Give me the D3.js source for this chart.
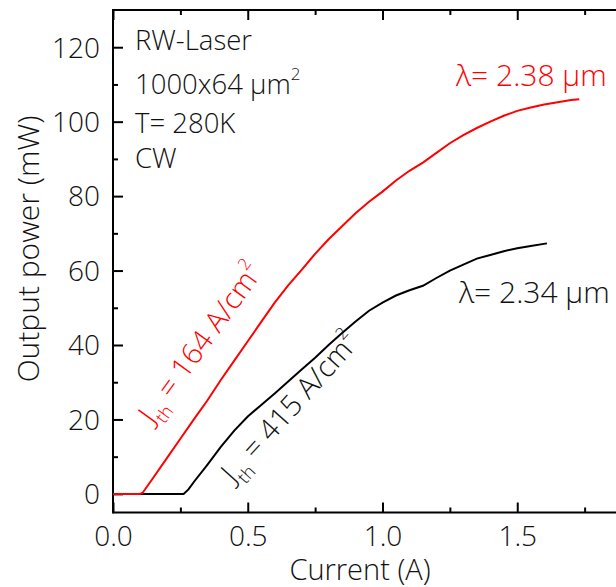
<!DOCTYPE html>
<html>
<head>
<meta charset="utf-8">
<script src="https://cdn.jsdelivr.net/npm/d3@7"></script>
<style>
  html, body { margin: 0; padding: 0; background: #fff; }
  svg { display: block; }
  text { font-family: "Open Sans", "Noto Sans", sans-serif; font-weight: 350; }
</style>
</head>
<body>
<svg id="chart" width="616" height="587"></svg>
<script>
// Light output vs. drive current, two ridge-waveguide lasers
const currentRed = [0.00, 0.05, 0.10, 0.11, 0.15, 0.20, 0.25, 0.30, 0.35, 0.40, 0.45, 0.50, 0.55, 0.60, 0.65, 0.70, 0.75, 0.80, 0.85, 0.90, 0.95, 1.00, 1.05, 1.10, 1.15, 1.20, 1.25, 1.30, 1.35, 1.40, 1.45, 1.50, 1.55, 1.60, 1.65, 1.70, 1.73];
const powerRed   = [0, 0, 0, 0.3, 4.4, 9.6, 14.8, 20.0, 25.1, 30.6, 35.8, 41.0, 46.2, 51.4, 56.0, 60.2, 64.5, 68.4, 71.9, 75.4, 78.5, 81.2, 84.2, 86.8, 89.0, 91.6, 94.2, 96.4, 98.3, 100.0, 101.6, 102.9, 103.8, 104.6, 105.2, 105.8, 106.0];

const currentBlack = [0.00, 0.10, 0.20, 0.262, 0.28, 0.30, 0.35, 0.40, 0.45, 0.50, 0.55, 0.60, 0.65, 0.70, 0.75, 0.80, 0.85, 0.90, 0.95, 1.00, 1.05, 1.10, 1.15, 1.20, 1.25, 1.30, 1.35, 1.40, 1.45, 1.50, 1.55, 1.61];
const powerBlack   = [0, 0, 0, 0, 1.2, 3.2, 7.8, 12.6, 17.0, 20.8, 23.9, 27.0, 30.2, 33.4, 36.6, 40.0, 43.2, 46.3, 49.2, 51.4, 53.3, 54.7, 55.9, 58.0, 60.0, 61.6, 63.2, 64.2, 65.2, 66.0, 66.6, 67.3];

const xMajorTicks = [0, 0.5, 1.0, 1.5];
const xMinorTicks = [0.25, 0.75, 1.25, 1.75];
const yMajorTicks = [0, 20, 40, 60, 80, 100, 120];
const yMinorTicks = [10, 30, 50, 70, 90, 110];

const infoLines = ["RW-Laser", "1000x64 μm", "T= 280K", "CW"];

const svg = d3.select("#chart");
const plotLeft = 113, plotTop = 10, plotBottom = 512.5, plotRight = 652;

const x = d3.scaleLinear().domain([0, 2.0]).range([plotLeft, plotRight]);
const y = d3.scaleLinear().domain([-5, 130]).range([plotBottom, plotTop]);

const axisColor = "#000";
const textColor = "#111";

// frame: bottom, top and left edges
svg.append("line").attr("x1", plotLeft).attr("x2", plotRight).attr("y1", plotBottom).attr("y2", plotBottom)
  .attr("stroke", axisColor).attr("stroke-width", 2);
svg.append("line").attr("x1", plotLeft).attr("x2", plotRight).attr("y1", plotTop).attr("y2", plotTop)
  .attr("stroke", axisColor).attr("stroke-width", 2);
svg.append("line").attr("x1", plotLeft).attr("x2", plotLeft).attr("y1", plotTop - 1).attr("y2", plotBottom + 1)
  .attr("stroke", axisColor).attr("stroke-width", 2);

// inward ticks built with d3 axes
function styleAxis(g) {
  g.select(".domain").remove();
  g.selectAll(".tick line").attr("stroke", axisColor).attr("stroke-width", 2);
}

const tickFont = 28;
const titleFont = 29;

svg.append("g").attr("transform", `translate(0,${plotBottom})`)
  .call(d3.axisBottom(x).tickValues(xMajorTicks).tickSizeInner(-10).tickSizeOuter(0)
    .tickFormat(d3.format(".1f")))
  .call(styleAxis)
  .call(g => g.selectAll(".tick text").attr("font-size", tickFont).attr("fill", textColor)
    .attr("font-family", null).attr("y", 0).attr("dy", 33.5));

svg.append("g").attr("transform", `translate(0,${plotBottom})`)
  .call(d3.axisBottom(x).tickValues(xMinorTicks).tickSizeInner(-5).tickSizeOuter(0).tickFormat(""))
  .call(styleAxis);

svg.append("g").attr("transform", `translate(0,${plotTop})`)
  .call(d3.axisTop(x).tickValues(xMajorTicks.concat([2.0])).tickSizeInner(-10).tickSizeOuter(0).tickFormat(""))
  .call(styleAxis);
svg.append("g").attr("transform", `translate(0,${plotTop})`)
  .call(d3.axisTop(x).tickValues(xMinorTicks).tickSizeInner(-5).tickSizeOuter(0).tickFormat(""))
  .call(styleAxis);

svg.append("g").attr("transform", `translate(${plotLeft},0)`)
  .call(d3.axisLeft(y).tickValues(yMajorTicks).tickSizeInner(-10).tickSizeOuter(0))
  .call(styleAxis)
  .call(g => g.selectAll(".tick text").attr("font-size", tickFont).attr("fill", textColor)
    .attr("font-family", null).attr("x", -13).attr("dy", "0.35em"));

svg.append("g").attr("transform", `translate(${plotLeft},0)`)
  .call(d3.axisLeft(y).tickValues(yMinorTicks).tickSizeInner(-5).tickSizeOuter(0).tickFormat(""))
  .call(styleAxis);

// axis titles
svg.append("text").attr("x", 360).attr("y", 579.5).attr("text-anchor", "middle")
  .attr("font-size", titleFont).attr("fill", textColor).text("Current (A)");
svg.append("text").attr("transform", "translate(39,249) rotate(-90)").attr("text-anchor", "middle")
  .attr("font-size", 30).attr("fill", textColor).text("Output power (mW)");

// curves
const line = d3.line().x(d => x(d[0])).y(d => y(d[1]));
const redData = d3.zip(currentRed, powerRed);
const blackData = d3.zip(currentBlack, powerBlack);

svg.append("path").datum(blackData).attr("d", line)
  .attr("fill", "none").attr("stroke", "#000").attr("stroke-width", 2);
svg.append("path").datum(redData).attr("d", line)
  .attr("fill", "none").attr("stroke", "#ff0000").attr("stroke-width", 2);

// device info block
const infoY = [50, 94, 133, 168];
infoLines.forEach((t, i) => {
  const tx = svg.append("text").attr("x", 135).attr("y", infoY[i])
    .attr("font-size", 27.5).attr("fill", textColor).text(t);
  if (i === 1) {
    tx.append("tspan").attr("font-size", 17).attr("dy", -14).text("2");
  }
});

// wavelength labels
svg.append("text").attr("x", 456).attr("y", 86).attr("font-size", 30)
  .attr("fill", "#ff0000").text("λ= 2.38 μm");
svg.append("text").attr("x", 459).attr("y", 303).attr("font-size", 30)
  .attr("fill", textColor).text("λ= 2.34 μm");

// threshold current density labels, aligned with the slopes
function thresholdLabel(px, py, angle, value, color, size) {
  const t = svg.append("text")
    .attr("transform", `translate(${px},${py}) rotate(${angle})`)
    .attr("font-size", size).attr("fill", color);
  t.append("tspan").text("J");
  t.append("tspan").attr("font-size", size * 0.62).attr("dy", 9).text("th");
  t.append("tspan").attr("dy", -9).text(` = ${value} A/cm`);
  t.append("tspan").attr("font-size", size * 0.58).attr("dy", -15).text("2");
}
thresholdLabel(153, 425, -54, 164, "#ff0000", 29);
thresholdLabel(234, 484, -48, 415, textColor, 29);
</script>
</body>
</html>
